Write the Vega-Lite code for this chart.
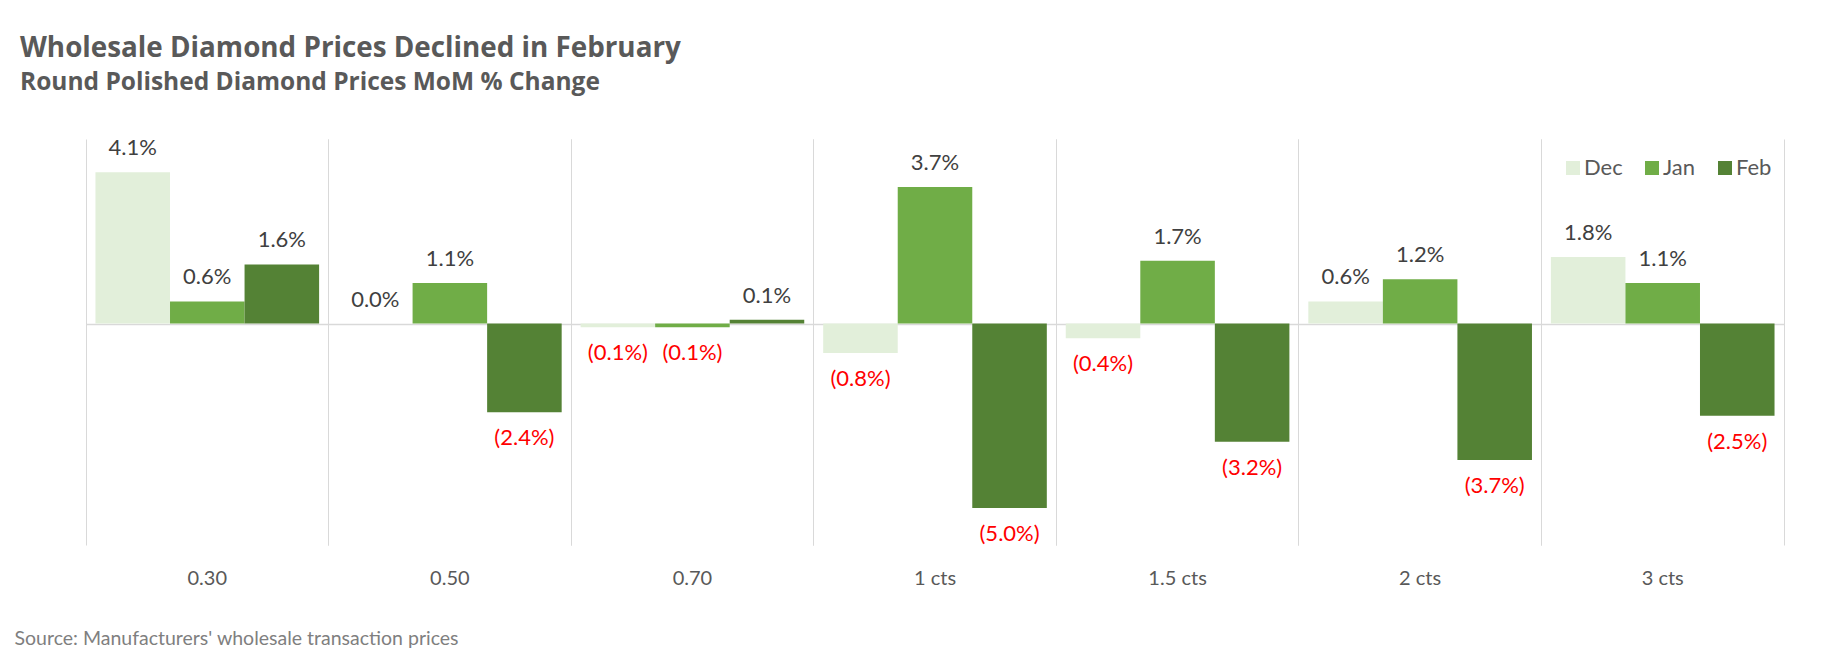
{
  "$schema": "https://vega.github.io/schema/vega-lite/v6.json",
  "width": 1698,
  "height": 406,
  "autosize": "none",
  "padding": {"left": 86, "top": 139, "right": 41, "bottom": 119},
  "background": "white",
  "title": {
    "text": "Wholesale Diamond Prices Declined in February",
    "subtitle": "Round Polished Diamond Prices MoM % Change",
    "anchor": "start",
    "dx": 6,
    "font": "Open Sans",
    "fontSize": 27.8,
    "fontWeight": "bold",
    "color": "#595959",
    "subtitleFont": "Open Sans",
    "subtitleFontSize": 24.5,
    "subtitleFontWeight": "bold",
    "subtitleColor": "#595959",
    "subtitlePadding": 8,
    "offset": 43
  },
  "config": {
    "view": {"stroke": null},
    "axis": {"labelFont": "Lato", "titleFont": "Lato"},
    "legend": {"labelFont": "Lato"}
  },
  "data": {
    "values": [
      {"size": "0.30", "month": "Dec", "value": 0.041},
      {"size": "0.30", "month": "Jan", "value": 0.006},
      {"size": "0.30", "month": "Feb", "value": 0.016},
      {"size": "0.50", "month": "Dec", "value": 0.0},
      {"size": "0.50", "month": "Jan", "value": 0.011},
      {"size": "0.50", "month": "Feb", "value": -0.024},
      {"size": "0.70", "month": "Dec", "value": -0.001},
      {"size": "0.70", "month": "Jan", "value": -0.001},
      {"size": "0.70", "month": "Feb", "value": 0.001},
      {"size": "1 cts", "month": "Dec", "value": -0.008},
      {"size": "1 cts", "month": "Jan", "value": 0.037},
      {"size": "1 cts", "month": "Feb", "value": -0.05},
      {"size": "1.5 cts", "month": "Dec", "value": -0.004},
      {"size": "1.5 cts", "month": "Jan", "value": 0.017},
      {"size": "1.5 cts", "month": "Feb", "value": -0.032},
      {"size": "2 cts", "month": "Dec", "value": 0.006},
      {"size": "2 cts", "month": "Jan", "value": 0.012},
      {"size": "2 cts", "month": "Feb", "value": -0.037},
      {"size": "3 cts", "month": "Dec", "value": 0.018},
      {"size": "3 cts", "month": "Jan", "value": 0.011},
      {"size": "3 cts", "month": "Feb", "value": -0.025}
    ]
  },
  "resolve": {"axis": {"x": "independent"}},
  "encoding": {
    "xOffset": {
      "field": "month",
      "type": "nominal",
      "sort": ["Dec", "Jan", "Feb"],
      "scale": {"paddingInner": 0, "paddingOuter": 0.127}
    },
    "y": {
      "field": "value",
      "type": "quantitative",
      "scale": {"domain": [-0.06, 0.05], "nice": false, "zero": false},
      "axis": {
        "values": [0],
        "grid": true,
        "gridColor": "#d9d9d9",
        "gridWidth": 1.3,
        "labels": false,
        "ticks": false,
        "domain": false,
        "title": null
      }
    }
  },
  "layer": [
    {
      "mark": {"type": "bar"},
      "encoding": {
        "x": {
          "field": "size",
          "type": "nominal",
          "sort": ["0.30", "0.50", "0.70", "1 cts", "1.5 cts", "2 cts", "3 cts"],
          "scale": {"paddingInner": 0, "paddingOuter": 0},
          "axis": {
            "orient": "bottom",
            "bandPosition": 0,
            "grid": true,
            "gridColor": "#d9d9d9",
            "gridWidth": 1,
            "ticks": false,
            "domain": false,
            "labelAngle": 0,
            "labelFontSize": 20,
            "labelColor": "#595959",
            "labelPadding": 23,
            "labelBound": false,
            "title": "Source: Manufacturers' wholesale transaction prices",
            "titleAnchor": "start",
            "titleAlign": "left",
            "titleBaseline": "alphabetic",
            "titleX": -72,
            "titleY": 99,
            "titleFontSize": 19.5,
            "titleFontWeight": "normal",
            "titleColor": "#7f7f7f"
          }
        },
        "color": {
          "field": "month",
          "type": "nominal",
          "sort": ["Dec", "Jan", "Feb"],
          "scale": {"domain": ["Dec", "Jan", "Feb"], "range": ["#E2EFDA", "#70AD47", "#548235"]},
          "legend": {
            "orient": "none",
            "legendX": 1476,
            "legendY": 18,
            "direction": "horizontal",
            "title": null,
            "symbolType": "square",
            "symbolSize": 196,
            "symbolStrokeWidth": 0,
            "labelFontSize": 22,
            "labelColor": "#595959",
            "labelOffset": 0,
            "columnPadding": 18,
            "padding": 0
          }
        }
      }
    },
    {
      "transform": [{"filter": "datum.value >= 0"}],
      "mark": {"type": "text", "font": "Lato", "fontSize": 22, "color": "#404040", "baseline": "middle", "dy": -24},
      "encoding": {
        "x": {
          "field": "size",
          "type": "nominal",
          "sort": ["0.30", "0.50", "0.70", "1 cts", "1.5 cts", "2 cts", "3 cts"],
          "axis": {
            "orient": "top",
            "bandPosition": 1,
            "grid": true,
            "gridColor": "#d9d9d9",
            "gridWidth": 1,
            "ticks": false,
            "domain": false,
            "labels": false,
            "title": null
          }
        },
        "text": {"field": "value", "type": "quantitative", "format": "(.1%"}
      }
    },
    {
      "transform": [{"filter": "datum.value < 0"}],
      "mark": {"type": "text", "font": "Lato", "fontSize": 22, "color": "#FF0000", "baseline": "middle", "dy": 26},
      "encoding": {
        "x": {
          "field": "size",
          "type": "nominal",
          "sort": ["0.30", "0.50", "0.70", "1 cts", "1.5 cts", "2 cts", "3 cts"],
          "axis": null
        },
        "text": {"field": "value", "type": "quantitative", "format": "(.1%"}
      }
    }
  ]
}
